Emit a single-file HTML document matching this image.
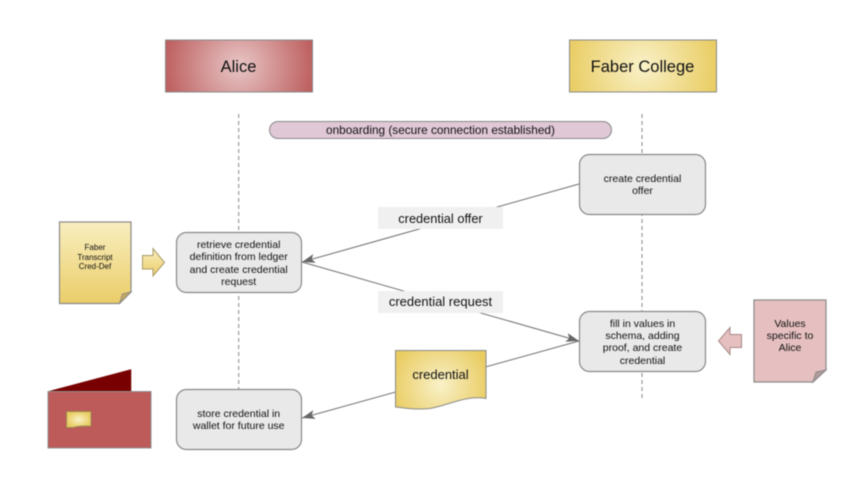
<!DOCTYPE html>
<html><head><meta charset="utf-8"><style>
html,body{margin:0;padding:0;background:#fff;width:845px;height:488px;overflow:hidden}
svg{display:block;filter:blur(.5px)}
text{font-family:"Liberation Sans",sans-serif;fill:#111;text-anchor:middle}
</style></head><body>
<svg width="845" height="488" viewBox="0 0 845 488" xmlns="http://www.w3.org/2000/svg">
<defs>
<radialGradient id="r1" gradientUnits="userSpaceOnUse" cx="239" cy="66" r="76"><stop offset="0" stop-color="#e8c6c6"/><stop offset="1" stop-color="#bd5e5e"/></radialGradient>
<radialGradient id="y1" gradientUnits="userSpaceOnUse" cx="642.500" cy="66" r="76"><stop offset="0" stop-color="#f9f1c8"/><stop offset="1" stop-color="#e9cc62"/></radialGradient>
<radialGradient id="y4" gradientUnits="userSpaceOnUse" cx="440.500" cy="385" r="50"><stop offset="0" stop-color="#f9f1c8"/><stop offset="1" stop-color="#e9cc62"/></radialGradient>
<radialGradient id="y5"><stop offset="0" stop-color="#f9f1c8"/><stop offset="1" stop-color="#e9cc62"/></radialGradient>
<linearGradient id="y3" x1="0" y1="0" x2="0" y2="1"><stop offset="0" stop-color="#f8eebf"/><stop offset="1" stop-color="#ebcd68"/></linearGradient>
<marker id="a" markerWidth="14" markerHeight="10" refX="13" refY="5" orient="auto" markerUnits="userSpaceOnUse"><path d="M0 .5L13 5L0 9.500L3 5Z" fill="#666"/></marker>
</defs>

<line x1="238.700" y1="114" x2="238.700" y2="390" stroke="#888" stroke-width="1" stroke-dasharray="4 3"/>
<line x1="642" y1="114" x2="642" y2="400" stroke="#888" stroke-width="1" stroke-dasharray="4 3"/>

<rect x="165.500" y="40" width="147" height="52" fill="url(#r1)" stroke="#8a8a8a"/>
<text x="238.500" y="72" font-size="16.500">Alice</text>
<rect x="569.500" y="40" width="147" height="52" fill="url(#y1)" stroke="#8a8a8a"/>
<text x="642.500" y="72" font-size="16.500">Faber College</text>

<rect x="269.500" y="121.500" width="342" height="17" rx="8.500" fill="#e0c8d6" stroke="#888"/>
<text x="440.500" y="134" font-size="11.800">onboarding (secure connection established)</text>

<line x1="579" y1="184" x2="302" y2="262" stroke="#707070" marker-end="url(#a)"/>
<line x1="302" y1="262" x2="579" y2="341" stroke="#707070" marker-end="url(#a)"/>
<line x1="579" y1="341" x2="302" y2="418" stroke="#707070" marker-end="url(#a)"/>

<rect x="378" y="207" width="125" height="22" fill="#f0f0f0"/>
<text x="440.500" y="223" font-size="12.800">credential offer</text>
<rect x="378" y="291" width="125" height="22" fill="#f0f0f0"/>
<text x="440.500" y="306" font-size="13">credential request</text>

<path d="M395.500 350.500H486V398.500C465 395 450 405 430 408.500C415 410 405 408 395.500 407Z" fill="url(#y4)" stroke="#8a8a8a"/>
<text x="440.500" y="379" font-size="13">credential</text>

<g fill="#e9e9e9" stroke="#888" stroke-width="1.200">
<rect x="176.500" y="232.500" width="125" height="60" rx="10"/>
<rect x="176.500" y="389.500" width="125" height="60" rx="10"/>
<rect x="579.500" y="154.500" width="126" height="60" rx="10"/>
<rect x="579.500" y="311.500" width="126" height="60" rx="10"/>
</g>
<g font-size="10.500">
<text x="238.700" y="248">retrieve credential</text>
<text x="238.700" y="260">definition from ledger</text>
<text x="238.700" y="273">and create credential</text>
<text x="238.700" y="285">request</text>
<text x="238.700" y="417">store credential in</text>
<text x="238.700" y="429">wallet for future use</text>
<text x="642.500" y="182">create credential</text>
<text x="642.500" y="194">offer</text>
<text x="642.500" y="327">fill in values in</text>
<text x="642.500" y="339">schema, adding</text>
<text x="642.500" y="351">proof, and create</text>
<text x="642.500" y="364">credential</text>
</g>

<path d="M59.500 222H131V292L119.500 303.500H59.500Z" fill="url(#y3)" stroke="#8a8a8a" stroke-width="1.200"/>
<path d="M119.500 303.500L122.500 294L131 292Z" fill="#c6aa5c" stroke="#8a8a8a"/>
<g font-size="8">
<text x="95" y="250">Faber</text>
<text x="95" y="260">Transcript</text>
<text x="95" y="269">Cred-Def</text>
</g>
<path d="M142.500 255.500H153V248.500L164.500 262.500L153 276V269H142.500Z" fill="url(#y3)" stroke="#a89a68"/>

<path d="M754 300H826V370L813 382H754Z" fill="#e6c0c0" stroke="#8a8a8a" stroke-width="1.200"/>
<path d="M813 382L816 372L826 370Z" fill="#b09a9a" stroke="#8a8a8a"/>
<g font-size="10.500">
<text x="790" y="327">Values</text>
<text x="790" y="339">specific to</text>
<text x="790" y="351">Alice</text>
</g>
<path d="M741.500 334.500H730V327.500L718.500 341L730 354.500V347.500H741.500Z" fill="#e6c0c0" stroke="#a88888"/>

<path d="M48 391.500L131 369.500V391.500Z" fill="#780000" stroke="#780000" stroke-width=".5"/>
<rect x="48" y="391.500" width="103" height="56.500" fill="#bd5a5a" stroke="#909090"/>
<path d="M66.500 411.500H91V426C83 426 76 426 74 427.500H66.500Z" fill="url(#y5)" stroke="#9a8a50"/>
</svg>
</body></html>
